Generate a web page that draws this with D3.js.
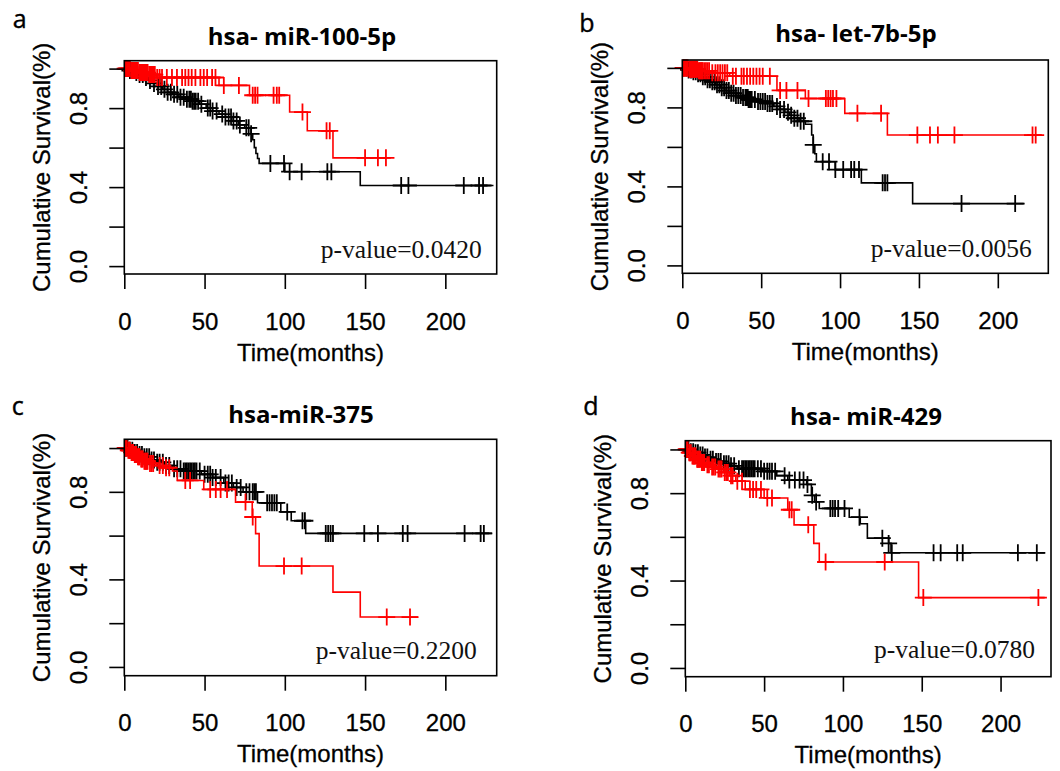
<!DOCTYPE html>
<html>
<head>
<meta charset="utf-8">
<script src="https://cdn.jsdelivr.net/npm/d3@7"></script>
<style>
  body { margin: 0; background: #fff; }
  svg { display: block; }
</style>
</head>
<body>
<svg width="1060" height="771"></svg>
<script>
// panel texts
const panelLabels = ["a", "b", "c", "d"];
const panelTitles = ["hsa- miR-100-5p", "hsa- let-7b-5p", "hsa-miR-375", "hsa- miR-429"];
const pValues = ["0.0420", "0.0056", "0.2200", "0.0780"];

// axis ticks
const xTickValues = [0, 50, 100, 150, 200];
const yTickValues = [0, 0.2, 0.4, 0.6, 0.8, 1.0];
const yTickLabels = ["0.0", "", "0.4", "", "0.8", ""];
const xTitle = "Time(months)";
const yTitle = "Cumulative Survival(%)";

// a : hsa-miR-100-5p  (times where the curve steps down, survival after the step, censored times)
const aBlackTimes = [3, 6, 9, 12, 15, 18, 21, 24, 27, 30, 34, 38, 42, 47, 51, 55, 59, 63, 67, 71, 75, 79, 80, 81, 82, 83, 84, 100, 147];
const aBlackSurv = [0.99, 0.98, 0.97, 0.955, 0.94, 0.925, 0.91, 0.895, 0.88, 0.87, 0.855, 0.845, 0.835, 0.82, 0.8, 0.785, 0.77, 0.755, 0.735, 0.715, 0.7, 0.67, 0.64, 0.6, 0.57, 0.545, 0.52, 0.478, 0.408];
const aBlackCensor = [1.5, 3.5, 5.5, 7.5, 9.5, 11.5, 13.5, 16, 18.5, 21, 23, 25, 27, 29, 31, 33, 35, 37, 39, 40.5, 41.5, 42.5, 43.5, 44.5, 46, 48, 52, 53.5, 55, 57.5, 61, 63, 65, 66.5, 68, 70, 72, 76, 77.5, 79, 91, 99.5, 103, 110.5, 126.5, 129, 172.5, 177, 211.5, 221, 223.5];
const aBlackEnd = 230;
const aRedTimes = [4, 9, 15, 20, 59, 78, 103, 114, 130];
const aRedSurv = [0.99, 0.98, 0.97, 0.955, 0.915, 0.865, 0.78, 0.685, 0.548];
const aRedCensor = [0.5, 1, 1.5, 2, 2.5, 3, 3.5, 4.5, 5, 5.5, 6, 6.5, 7, 7.5, 8, 8.5, 9.5, 10, 10.5, 11, 11.5, 12, 12.5, 13, 13.5, 14, 14.5, 15.5, 16, 16.5, 17, 17.5, 18, 19, 20.5, 22, 23.5, 26.5, 29.7, 32.8, 36, 38, 40, 42, 44.3, 47.4, 49.5, 51.6, 54.7, 56.8, 62, 71.4, 80, 81.5, 83, 93, 95, 96.5, 111, 126, 128, 150, 158, 163];
const aRedEnd = 166;

// b : hsa-let-7b-5p
const bBlackTimes = [3, 6, 9, 12, 15, 18, 21, 24, 27, 30, 34, 38, 42, 47, 53, 58, 62, 65, 68, 71, 74, 78, 82, 83, 84, 85, 97, 113.5, 146];
const bBlackSurv = [0.99, 0.98, 0.97, 0.955, 0.94, 0.93, 0.915, 0.9, 0.885, 0.872, 0.86, 0.85, 0.84, 0.83, 0.82, 0.805, 0.79, 0.775, 0.76, 0.745, 0.73, 0.715, 0.66, 0.61, 0.565, 0.525, 0.485, 0.418, 0.313];
const bBlackCensor = [1, 2.5, 4, 5.5, 7, 8.5, 10, 11.5, 13, 14.5, 16, 17.5, 19, 20.5, 22, 23.5, 25, 26.5, 28, 29.5, 31, 32.5, 34, 35.5, 37, 38.5, 40, 40.5, 41, 41.5, 42, 42.5, 43, 43.5, 44, 46, 48, 49.5, 51, 52.5, 54, 55.5, 57, 60, 62, 64.5, 67, 69, 71, 73, 75, 77, 83, 89, 93, 97, 102, 107, 109, 112, 127, 128.5, 130, 177, 211];
const bBlackEnd = 217;
const bRedTimes = [4, 10, 18, 30, 60, 78, 103, 130];
const bRedSurv = [0.993, 0.985, 0.975, 0.958, 0.886, 0.845, 0.77, 0.66];
const bRedCensor = [0.5, 1, 1.5, 2, 2.5, 3, 3.5, 4.5, 5, 5.5, 6, 6.5, 7, 7.5, 8, 8.5, 9, 9.5, 10.5, 11, 11.5, 12, 12.5, 13, 14, 15, 16, 17, 19, 21, 22.5, 24, 25.5, 27, 28.5, 32, 34, 37.5, 39, 41, 43, 45, 47, 49, 51, 55.5, 62, 66, 73, 80, 91, 92.5, 94, 95.5, 97.7, 111, 126, 149, 157, 162, 172.5, 222, 224];
const bRedEnd = 228;

// c : hsa-miR-375
const cBlackTimes = [3, 6, 9, 12, 16, 20, 25, 30, 36, 48, 55, 62, 68, 74, 83, 97.5, 104, 113];
const cBlackSurv = [0.99, 0.98, 0.97, 0.96, 0.945, 0.935, 0.92, 0.905, 0.895, 0.88, 0.865, 0.84, 0.82, 0.8, 0.75, 0.708, 0.668, 0.61];
const cBlackCensor = [1, 2, 3.5, 5, 6.5, 8, 9.5, 11, 12.5, 14, 15.5, 17, 18.5, 20.5, 22, 24, 26, 28, 31, 33, 35, 37, 38, 39, 40, 41, 42, 43, 44, 45, 47, 50, 52, 53.5, 55, 57, 60, 63, 65, 67, 70, 72.5, 76, 78, 80, 81, 82, 89, 90.5, 92, 93.5, 95, 101.5, 111, 112.5, 125.5, 127, 128.5, 130, 149.5, 158, 173.5, 176.5, 212, 222, 224];
const cBlackEnd = 229;
const cRedTimes = [2, 4, 6, 8, 10, 12, 15, 20, 25, 30, 33, 49.5, 69.3, 79.7, 81.8, 84, 130, 147];
const cRedSurv = [0.99, 0.98, 0.97, 0.96, 0.95, 0.94, 0.93, 0.92, 0.91, 0.895, 0.852, 0.811, 0.753, 0.685, 0.609, 0.461, 0.342, 0.228];
const cRedCensor = [0.5, 1, 1.5, 2.5, 3, 3.5, 4.5, 5, 5.5, 6.5, 7, 7.5, 8.5, 9, 9.5, 10.5, 11, 11.5, 12.5, 13, 13.5, 14, 14.5, 16, 17, 18, 22, 24, 26, 28, 38, 41, 53.5, 57, 60, 64, 75.5, 80, 99.5, 110.5, 163.5, 178];
const cRedEnd = 183;

// d : hsa-miR-429
const dBlackTimes = [3, 6, 9, 12, 15, 19, 23, 28, 33, 49, 58, 65, 77, 80, 82, 85, 104, 111, 115.5, 129, 130.5];
const dBlackSurv = [0.99, 0.985, 0.975, 0.965, 0.955, 0.945, 0.935, 0.925, 0.912, 0.9, 0.88, 0.86, 0.84, 0.79, 0.76, 0.73, 0.69, 0.66, 0.594, 0.57, 0.527];
const dBlackCensor = [1, 2, 3.5, 5, 6.5, 8, 9.5, 11, 12.5, 14, 16, 17.5, 19.5, 21, 22.5, 24.5, 26, 27.5, 29, 31, 34, 36, 37, 38, 39, 40, 41, 42, 43, 44, 46, 48, 50, 52, 53.5, 55, 57, 63, 66, 69.5, 72.5, 75, 77.5, 80.5, 83, 92, 93.5, 95, 97, 101, 110.5, 125, 129, 131, 157.5, 162, 172.5, 176, 211, 223];
const dBlackEnd = 228;
const dRedTimes = [2, 4, 7, 10, 13, 16, 20, 24, 28, 32, 38, 50, 65, 69, 81.5, 85, 148];
const dRedSurv = [0.985, 0.97, 0.955, 0.94, 0.93, 0.92, 0.91, 0.895, 0.88, 0.855, 0.817, 0.778, 0.724, 0.655, 0.57, 0.485, 0.322];
const dRedCensor = [0.5, 1, 1.5, 2.5, 3, 3.5, 4.5, 5, 5.5, 6, 6.5, 7.5, 8, 8.5, 9, 9.5, 10.5, 11, 11.5, 12, 14, 15, 17, 18, 19, 21, 22, 23, 25, 26, 27, 29, 30, 33, 36, 41, 43, 45, 48, 52, 55, 66, 67.5, 78, 89, 126.5, 151, 224];
const dRedEnd = 228;

// where each panel sits on the page
const layout = [
  { left: 124.3, right: 496.7, top: 60.7, bottom: 274, labelX: 12.7, labelY: 28.3, titleX: 302, titleY: 45, pX: 481.7, pY: 258.3 },
  { left: 682.3, right: 1048.3, top: 60, bottom: 273.3, labelX: 579.3, labelY: 31.7, titleX: 856, titleY: 41.7, pX: 1031.7, pY: 256.7 },
  { left: 124.3, right: 496.7, top: 439.3, bottom: 675.7, labelX: 11.7, labelY: 415, titleX: 301, titleY: 423.3, pX: 476.7, pY: 659.3 },
  { left: 685.3, right: 1051, top: 440.7, bottom: 676.7, labelX: 583.3, labelY: 415, titleX: 866, titleY: 425, pX: 1035, pY: 658.3 }
];

const curves = [
  [{ times: aBlackTimes, surv: aBlackSurv, censor: aBlackCensor, end: aBlackEnd, color: "#000" },
   { times: aRedTimes, surv: aRedSurv, censor: aRedCensor, end: aRedEnd, color: "#f00" }],
  [{ times: bBlackTimes, surv: bBlackSurv, censor: bBlackCensor, end: bBlackEnd, color: "#000" },
   { times: bRedTimes, surv: bRedSurv, censor: bRedCensor, end: bRedEnd, color: "#f00" }],
  [{ times: cBlackTimes, surv: cBlackSurv, censor: cBlackCensor, end: cBlackEnd, color: "#000" },
   { times: cRedTimes, surv: cRedSurv, censor: cRedCensor, end: cRedEnd, color: "#f00" }],
  [{ times: dBlackTimes, surv: dBlackSurv, censor: dBlackCensor, end: dBlackEnd, color: "#000" },
   { times: dRedTimes, surv: dRedSurv, censor: dRedCensor, end: dRedEnd, color: "#f00" }]
];

const svg = d3.select("svg");
const axisFont = "'Liberation Sans', Arial, sans-serif";
const tickLen = 15;
const markHalf = 8.5;

// survival value of a step curve at time t
function survAt(c, t) {
  let s = 1;
  c.times.forEach((tt, i) => { if (tt <= t) s = c.surv[i]; });
  return s;
}

function drawPanel(i) {
  const L = layout[i];
  const g = svg.append("g");

  // R style: x from 0 with no padding, y padded 4% each side
  const x = d3.scaleLinear().domain([0, 232]).range([L.left, L.right]);
  const y = d3.scaleLinear().domain([-0.04, 1.04]).range([L.bottom, L.top]);

  // curves, black first so red sits on top
  curves[i].forEach(c => {
    const pts = [[0, 1]].concat(c.times.map((t, k) => [t, c.surv[k]]));
    pts.push([c.end, c.surv[c.surv.length - 1]]);
    const line = d3.line().x(d => x(d[0])).y(d => y(d[1])).curve(d3.curveStepAfter);
    g.append("path")
      .attr("d", line(pts))
      .attr("fill", "none")
      .attr("stroke", c.color)
      .attr("stroke-width", 1.6);

    // censor marks "+"
    g.selectAll(null)
      .data(c.censor)
      .enter().append("path")
      .attr("d", t => {
        const cx = x(t), cy = y(survAt(c, t));
        return `M${cx - markHalf},${cy}H${cx + markHalf}M${cx},${cy - markHalf}V${cy + markHalf}`;
      })
      .attr("fill", "none")
      .attr("stroke", c.color)
      .attr("stroke-width", 1.8);
  });

  // box
  g.append("rect")
    .attr("x", L.left).attr("y", L.top)
    .attr("width", L.right - L.left).attr("height", L.bottom - L.top)
    .attr("fill", "none").attr("stroke", "#000").attr("stroke-width", 1.6);

  // x axis
  const gx = g.append("g")
    .attr("transform", `translate(0,${L.bottom})`)
    .call(d3.axisBottom(x).tickValues(xTickValues).tickSize(tickLen).tickFormat(d3.format("d")));
  gx.select(".domain").remove();
  gx.selectAll("line").attr("stroke-width", 1.6);
  gx.selectAll("text")
    .attr("y", 55.6).attr("dy", 0)
    .attr("font-family", axisFont).attr("font-size", 24).attr("fill", "#000")
    .attr("stroke", "#000").attr("stroke-width", 0.3);

  // y axis, labels turned like R's default
  const gy = g.append("g")
    .attr("transform", `translate(${L.left},0)`)
    .call(d3.axisLeft(y).tickValues(yTickValues).tickSize(tickLen).tickFormat((d, k) => yTickLabels[k]));
  gy.select(".domain").remove();
  gy.selectAll("line").attr("stroke-width", 1.6);
  gy.selectAll("text")
    .attr("x", 0).attr("dy", 0)
    .attr("text-anchor", "middle")
    .attr("transform", "translate(-37,0) rotate(-90)")
    .attr("font-family", axisFont).attr("font-size", 24).attr("fill", "#000")
    .attr("stroke", "#000").attr("stroke-width", 0.3);

  // axis titles
  g.append("text")
    .attr("x", (L.left + L.right) / 2).attr("y", L.bottom + 86.6)
    .attr("text-anchor", "middle")
    .attr("font-family", axisFont).attr("font-size", 24)
    .attr("stroke", "#000").attr("stroke-width", 0.3)
    .text(xTitle);
  g.append("text")
    .attr("transform", `translate(${L.left - 74.4},${(L.top + L.bottom) / 2}) rotate(-90)`)
    .attr("text-anchor", "middle")
    .attr("font-family", axisFont).attr("font-size", 24)
    .attr("stroke", "#000").attr("stroke-width", 0.3)
    .text(yTitle);

  // p-value
  g.append("text")
    .attr("x", L.pX).attr("y", L.pY)
    .attr("text-anchor", "end")
    .attr("font-family", "'Liberation Serif', 'Times New Roman', serif").attr("font-size", 25.5)
    .attr("fill", "#111")
    .text("p-value=" + pValues[i]);

  // panel title and letter
  g.append("text")
    .attr("x", L.titleX).attr("y", L.titleY)
    .attr("text-anchor", "middle")
    .attr("font-family", "'Open Sans', 'Noto Sans', sans-serif").attr("font-weight", "bold").attr("font-size", 24)
    .text(panelTitles[i]);
  g.append("text")
    .attr("x", L.labelX).attr("y", L.labelY)
    .attr("font-family", "'Open Sans', 'Noto Sans', sans-serif").attr("font-size", 25)
    .attr("stroke", "#000").attr("stroke-width", 0.4)
    .text(panelLabels[i]);
}

panelLabels.forEach((d, i) => drawPanel(i));
</script>
</body>
</html>
